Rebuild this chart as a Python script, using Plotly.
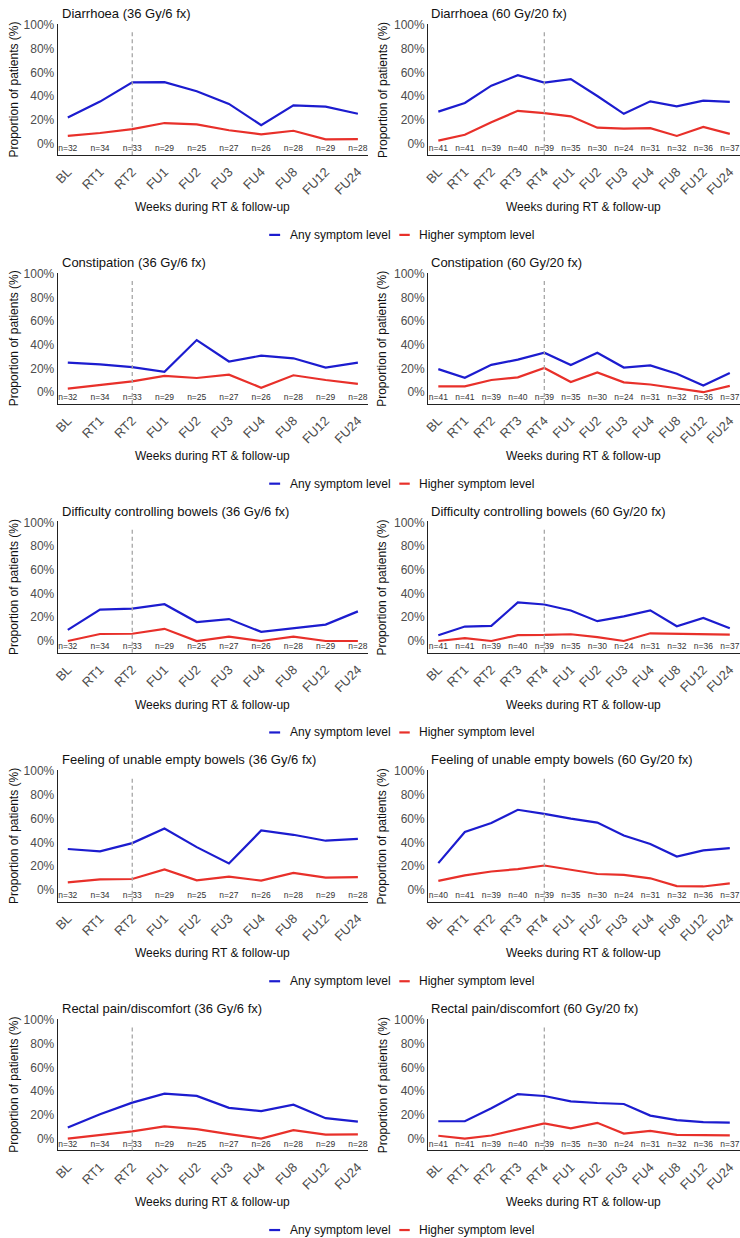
import plotly.graph_objects as go

# ---------------- data ----------------
cats36 = ["BL", "RT1", "RT2", "FU1", "FU2", "FU3", "FU4", "FU8", "FU12", "FU24"]
cats60 = ["BL", "RT1", "RT2", "RT3", "RT4", "FU1", "FU2", "FU3", "FU4", "FU8", "FU12", "FU24"]
n36 = [32, 34, 33, 29, 25, 27, 26, 28, 29, 28]
n60 = [41, 41, 39, 40, 39, 35, 30, 24, 31, 32, 36, 37]
n60_feeling = [40, 41, 39, 40, 39, 35, 30, 24, 31, 32, 36, 37]
end_rt_36 = "RT2"
end_rt_60 = "RT4"

symptoms = ["Diarrhoea", "Constipation", "Difficulty controlling bowels",
            "Feeling of unable empty bowels", "Rectal pain/discomfort"]

diarrhoea_36_any = [21.9, 35.3, 51.5, 51.7, 44.0, 33.3, 15.4, 32.1, 31.0, 25.0]
diarrhoea_36_high = [6.3, 8.8, 12.1, 17.2, 16.0, 11.1, 7.7, 10.7, 3.4, 3.6]
diarrhoea_60_any = [26.8, 34.1, 48.7, 57.5, 51.3, 54.3, 40.0, 25.0, 35.5, 31.3, 36.1, 35.1]
diarrhoea_60_high = [2.4, 7.3, 17.9, 27.5, 25.6, 22.9, 13.3, 12.5, 12.9, 6.3, 13.9, 8.1]

constipation_36_any = [25.0, 23.5, 21.2, 17.2, 44.0, 25.9, 30.8, 28.6, 20.7, 25.0]
constipation_36_high = [3.1, 5.9, 9.1, 13.8, 12.0, 14.8, 3.8, 14.3, 10.3, 7.1]
constipation_60_any = [19.5, 12.2, 23.1, 27.5, 33.3, 22.9, 33.3, 20.8, 22.6, 15.6, 5.6, 16.2]
constipation_60_high = [4.9, 4.9, 10.3, 12.5, 20.5, 8.6, 16.7, 8.3, 6.5, 3.1, 0.0, 5.4]

difficulty_36_any = [9.4, 26.5, 27.3, 31.0, 16.0, 18.5, 7.7, 10.7, 13.8, 25.0]
difficulty_36_high = [0.0, 5.9, 6.1, 10.3, 0.0, 3.7, 0.0, 3.6, 0.0, 0.0]
difficulty_60_any = [4.9, 12.2, 12.8, 32.5, 30.8, 25.7, 16.7, 20.8, 25.8, 12.5, 19.4, 10.8]
difficulty_60_high = [0.0, 2.4, 0.0, 5.0, 5.1, 5.7, 3.3, 0.0, 6.5, 6.3, 5.6, 5.4]

feeling_36_any = [34.4, 32.4, 39.4, 51.7, 36.0, 22.2, 50.0, 46.4, 41.4, 42.9]
feeling_36_high = [6.3, 8.8, 9.1, 17.2, 8.0, 11.1, 7.7, 14.3, 10.3, 10.7]
feeling_60_any = [22.5, 48.8, 56.4, 67.5, 64.1, 60.0, 56.7, 45.8, 38.7, 28.1, 33.3, 35.1]
feeling_60_high = [7.5, 12.2, 15.4, 17.5, 20.5, 17.1, 13.3, 12.5, 9.7, 3.1, 2.8, 5.4]

rectal_36_any = [9.4, 20.6, 30.3, 37.9, 36.0, 25.9, 23.1, 28.6, 17.2, 14.3]
rectal_36_high = [0.0, 2.9, 6.1, 10.3, 8.0, 3.7, 0.0, 7.1, 3.4, 3.6]
rectal_60_any = [14.6, 14.6, 25.6, 37.5, 35.9, 31.4, 30.0, 29.2, 19.4, 15.6, 13.9, 13.5]
rectal_60_high = [2.4, 0.0, 2.6, 7.5, 12.8, 8.6, 13.3, 4.2, 6.5, 3.1, 2.8, 2.7]

y_ticks = [0, 20, 40, 60, 80, 100]
y_tick_labels = ["0%", "20%", "40%", "60%", "80%", "100%"]
legend_labels = ["Any symptom level", "Higher symptom level"]

# ---------------- styling ----------------
W, H = 740, 1238
FONT = "Liberation Sans, Arial, sans-serif"
BLUE = "#1C1CCF"
RED = "#E8302A"
ROW_H = 250


def px_x(p):
    return p / W


def px_y(p):
    return 1 - p / H


panels = [
    (diarrhoea_36_any, diarrhoea_36_high, diarrhoea_60_any, diarrhoea_60_high, n60),
    (constipation_36_any, constipation_36_high, constipation_60_any, constipation_60_high, n60),
    (difficulty_36_any, difficulty_36_high, difficulty_60_any, difficulty_60_high, n60),
    (feeling_36_any, feeling_36_high, feeling_60_any, feeling_60_high, n60_feeling),
    (rectal_36_any, rectal_36_high, rectal_60_any, rectal_60_high, n60),
]

fig = go.Figure()
layout = dict(
    width=W, height=H, margin=dict(l=0, r=0, t=0, b=0),
    paper_bgcolor="white", plot_bgcolor="white", showlegend=False,
    font=dict(family=FONT, color="#222222"),
)
annotations = []
shapes = []

cols = [
    dict(x0=53, x1=365.5, cats=cats36, rng=[-0.315, 9.315], dose="36 Gy/6 fx",
         title_x=55, ytitle_x=9, vline=end_rt_36, xt_center=209),
    dict(x0=426, x1=740, cats=cats60, rng=[-0.385, 11.385], dose="60 Gy/20 fx",
         title_x=427, ytitle_x=380, vline=end_rt_60, xt_center=582),
]

k = 0
for r, (a36, h36, a60, h60, nn60) in enumerate(panels):
    top = 17.8 + ROW_H * r
    bot = 150 + ROW_H * r
    for c, col in enumerate(cols):
        k += 1
        xa = "x" if k == 1 else f"x{k}"
        ya = "y" if k == 1 else f"y{k}"
        any_v, high_v = (a36, h36) if c == 0 else (a60, h60)
        nvals = n36 if c == 0 else nn60
        cats = col["cats"]
        fig.add_trace(go.Scatter(x=cats, y=any_v, mode="lines", xaxis=xa, yaxis=ya,
                                 line=dict(color=BLUE, width=2.2), name=legend_labels[0]))
        fig.add_trace(go.Scatter(x=cats, y=high_v, mode="lines", xaxis=xa, yaxis=ya,
                                 line=dict(color=RED, width=2.2), name=legend_labels[1]))
        fig.add_trace(go.Scatter(x=cats, y=[-5] * len(cats), mode="text", xaxis=xa, yaxis=ya,
                                 text=[f"n={v}" for v in nvals], cliponaxis=False,
                                 textfont=dict(size=8.5, color="#333333", family=FONT),
                                 hoverinfo="skip"))
        xkey = "xaxis" if k == 1 else f"xaxis{k}"
        ykey = "yaxis" if k == 1 else f"yaxis{k}"
        layout[xkey] = dict(
            domain=[px_x(col["x0"]), px_x(col["x1"])], anchor=ya,
            type="category", categoryorder="array", categoryarray=cats,
            range=col["rng"], showgrid=False, zeroline=False,
            showline=True, linecolor="#222222", linewidth=1,
            ticks="outside", ticklen=3, tickcolor="rgba(0,0,0,0)",
            tickangle=-45, tickfont=dict(size=13, color="#4d4d4d", family=FONT),
            fixedrange=True,
        )
        layout[ykey] = dict(
            domain=[px_y(bot), px_y(top)], anchor=xa,
            range=[-10, 101], tickmode="array", tickvals=y_ticks, ticktext=y_tick_labels,
            showgrid=False, zeroline=False,
            showline=True, linecolor="#222222", linewidth=1,
            ticks="", tickfont=dict(size=12, color="#4d4d4d", family=FONT),
            fixedrange=True,
        )
        # end-of-RT dashed line
        shapes.append(dict(type="line", xref=xa, yref=ya, x0=col["vline"], x1=col["vline"],
                           y0=-10, y1=95, line=dict(color="#A6A6A6", width=1.3, dash="4px,3px")))
        # panel title
        annotations.append(dict(xref="paper", yref="paper", x=px_x(col["title_x"]),
                                y=px_y(7.5 + ROW_H * r), xanchor="left", yanchor="middle",
                                text=f"{symptoms[r]} ({col['dose']})", showarrow=False,
                                font=dict(size=13, color="#111111", family=FONT)))
        # y title
        annotations.append(dict(xref="paper", yref="paper", x=px_x(col["ytitle_x"]),
                                y=px_y(84 + ROW_H * r), xanchor="center", yanchor="middle",
                                textangle=-90, text="Proportion of patients (%)", showarrow=False,
                                font=dict(size=12, color="#111111", family=FONT)))
        # x title
        annotations.append(dict(xref="paper", yref="paper", x=px_x(col["xt_center"]),
                                y=px_y(202 + ROW_H * r), xanchor="center", yanchor="middle",
                                text="Weeks during RT & follow-up", showarrow=False,
                                font=dict(size=12, color="#111111", family=FONT)))
    # legend row
    ly = 230 + ROW_H * r
    for (lx0, lx1, tx, lab, colr) in [(266, 277, 285, legend_labels[0], BLUE),
                                      (397, 407.5, 415, legend_labels[1], RED)]:
        shapes.append(dict(type="line", xref="paper", yref="paper",
                           x0=px_x(lx0), x1=px_x(lx1), y0=px_y(ly), y1=px_y(ly),
                           line=dict(color=colr, width=2.2)))
        annotations.append(dict(xref="paper", yref="paper", x=px_x(tx), y=px_y(ly),
                                xanchor="left", yanchor="middle", text=lab, showarrow=False,
                                font=dict(size=12, color="#111111", family=FONT)))

layout["annotations"] = annotations
layout["shapes"] = shapes
fig.update_layout(**layout)
fig.write_html("out.html")
